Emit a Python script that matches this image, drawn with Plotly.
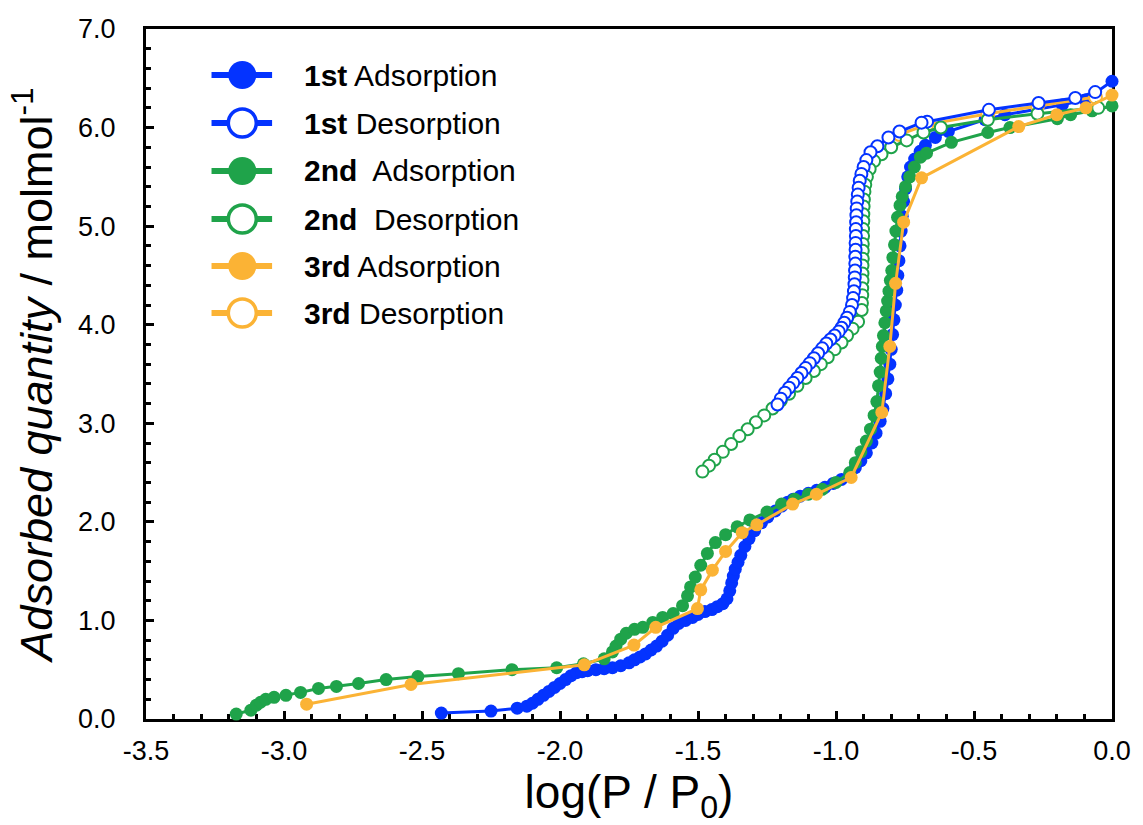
import plotly.graph_objects as go

# ---------------------------------------------------------------------------
# Isotherm data: x = log(P / P0), y = adsorbed quantity / mol mol^-1
# ---------------------------------------------------------------------------
ads1_x = [-2.43, -2.25, -2.155, -2.12, -2.10, -2.08, -2.06, -2.04, -2.02, -2.00,
          -1.98, -1.96, -1.94, -1.92, -1.90, -1.87, -1.84, -1.81, -1.78, -1.75,
          -1.73, -1.71, -1.69, -1.67, -1.65, -1.63, -1.61, -1.59, -1.57, -1.545,
          -1.52, -1.50, -1.475, -1.45, -1.43, -1.41, -1.395, -1.385, -1.378, -1.372,
          -1.365, -1.355, -1.345, -1.33, -1.315, -1.295, -1.27, -1.247, -1.22, -1.197,
          -1.175, -1.155, -1.13, -1.10, -1.07, -1.04, -1.01, -0.98, -0.95, -0.93,
          -0.91, -0.89, -0.87, -0.855, -0.84, -0.83, -0.82, -0.812, -0.805, -0.80,
          -0.795, -0.79, -0.785, -0.78, -0.776, -0.772, -0.768, -0.764, -0.76, -0.755,
          -0.748, -0.74, -0.73, -0.715, -0.695, -0.676, -0.64, -0.593, -0.46, -0.388,
          -0.18, -0.097, 0.0]
ads1_y = [0.06, 0.08, 0.11, 0.13, 0.16, 0.20, 0.24, 0.28, 0.32, 0.36,
          0.40, 0.44, 0.47, 0.48, 0.49, 0.50, 0.51, 0.52, 0.54, 0.57,
          0.60, 0.63, 0.66, 0.70, 0.74, 0.79, 0.85, 0.92, 0.97, 1.00,
          1.03, 1.06, 1.09, 1.11, 1.14, 1.17, 1.22, 1.30, 1.38, 1.45,
          1.52, 1.59, 1.66, 1.75, 1.83, 1.91, 1.99, 2.05, 2.11, 2.16,
          2.20, 2.23, 2.26, 2.29, 2.32, 2.35, 2.39, 2.43, 2.48, 2.55,
          2.62, 2.70, 2.80, 2.90, 3.02, 3.15, 3.30, 3.45, 3.60, 3.75,
          3.90, 4.05, 4.20, 4.35, 4.50, 4.65, 4.80, 4.95, 5.10, 5.25,
          5.38, 5.50, 5.60, 5.68, 5.76, 5.82, 5.90, 5.96, 6.08, 6.13,
          6.23, 6.28, 6.47]

des1_x = [-0.061, -0.133, -0.266, -0.446, -0.67, -0.69, -0.77, -0.81, -0.85, -0.875,
          -0.89, -0.90, -0.908, -0.914, -0.918, -0.921, -0.923, -0.925, -0.926, -0.927,
          -0.928, -0.928, -0.929, -0.929, -0.930, -0.930, -0.931, -0.932, -0.933, -0.935,
          -0.938, -0.942, -0.95, -0.96, -0.97, -0.98, -0.99, -1.005, -1.02, -1.035,
          -1.05, -1.065, -1.08, -1.095, -1.11, -1.125, -1.14, -1.155, -1.17, -1.185,
          -1.20, -1.212]
des1_y = [6.36, 6.30, 6.25, 6.18, 6.06, 6.05, 5.96, 5.90, 5.81, 5.75,
          5.67, 5.60, 5.53, 5.46, 5.39, 5.32, 5.25, 5.18, 5.11, 5.04,
          4.97, 4.90, 4.83, 4.76, 4.69, 4.62, 4.55, 4.48, 4.41, 4.34,
          4.27, 4.20, 4.13, 4.07, 4.02, 3.97, 3.93, 3.89, 3.85, 3.81,
          3.76, 3.71, 3.66, 3.61, 3.56, 3.51, 3.46, 3.41, 3.36, 3.31,
          3.25, 3.19]

ads2_x = [-3.173, -3.12, -3.10, -3.085, -3.066, -3.036, -2.993, -2.94, -2.875, -2.81,
          -2.73, -2.63, -2.515, -2.368, -2.174, -2.012, -1.915, -1.84, -1.81, -1.797,
          -1.78, -1.76, -1.73, -1.70, -1.664, -1.628, -1.59, -1.556, -1.538, -1.527,
          -1.51, -1.49, -1.466, -1.437, -1.40, -1.358, -1.312, -1.25, -1.197, -1.15,
          -1.10, -1.05, -1.00, -0.95, -0.93, -0.91, -0.89, -0.875, -0.862, -0.852,
          -0.846, -0.84, -0.836, -0.832, -0.828, -0.823, -0.818, -0.813, -0.808, -0.803,
          -0.798, -0.794, -0.788, -0.783, -0.777, -0.768, -0.76, -0.748, -0.733, -0.716,
          -0.694, -0.672, -0.582, -0.45, -0.37, -0.198, -0.15, -0.072, 0.0]
ads2_y = [0.05, 0.09, 0.14, 0.17, 0.20, 0.22, 0.24, 0.27, 0.31, 0.33,
          0.36, 0.40, 0.43, 0.46, 0.50, 0.52, 0.56, 0.61, 0.68, 0.74,
          0.81, 0.87, 0.91, 0.93, 0.98, 1.03, 1.07, 1.15, 1.25, 1.34,
          1.44, 1.56, 1.68, 1.79, 1.87, 1.95, 2.02, 2.10, 2.18, 2.23,
          2.28, 2.33, 2.40, 2.50, 2.60, 2.71, 2.82, 2.94, 3.08, 3.22,
          3.38, 3.52, 3.66, 3.78, 3.89, 4.02, 4.14, 4.24, 4.34, 4.45,
          4.55, 4.68, 4.81, 4.95, 5.09, 5.21, 5.30, 5.40, 5.50, 5.60,
          5.70, 5.74, 5.85, 5.95, 6.00, 6.09, 6.13, 6.17, 6.22]

des2_x = [-0.05, -0.27, -0.45, -0.62, -0.683, -0.744, -0.80, -0.835, -0.862, -0.878,
          -0.888, -0.894, -0.897, -0.899, -0.900, -0.901, -0.901, -0.902, -0.902, -0.903,
          -0.903, -0.903, -0.904, -0.904, -0.904, -0.905, -0.905, -0.906, -0.907, -0.92,
          -0.94, -0.96, -0.98, -1.005, -1.03, -1.055, -1.08, -1.11, -1.14, -1.17,
          -1.20, -1.23, -1.26, -1.29, -1.32, -1.35, -1.38, -1.41, -1.44, -1.46,
          -1.484]
des2_y = [6.20, 6.14, 6.08, 6.00, 5.95, 5.87, 5.80, 5.73, 5.66, 5.58,
          5.50, 5.42, 5.35, 5.27, 5.20, 5.12, 5.05, 4.97, 4.90, 4.82,
          4.75, 4.67, 4.60, 4.52, 4.45, 4.37, 4.30, 4.22, 4.15, 4.03,
          3.96, 3.89, 3.82, 3.75, 3.67, 3.60, 3.53, 3.46, 3.38, 3.30,
          3.23, 3.15, 3.08, 3.01, 2.94, 2.87, 2.79, 2.71, 2.63, 2.57,
          2.51]

ads3_x = [-2.918, -2.54, -1.912, -1.732, -1.653, -1.502, -1.49, -1.448, -1.40, -1.34,
          -1.287, -1.157, -1.071, -0.945, -0.834, -0.805, -0.784, -0.755, -0.69, -0.338,
          -0.20, -0.094, 0.0]
ads3_y = [0.15, 0.35, 0.55, 0.75, 0.93, 1.12, 1.31, 1.51, 1.70, 1.89,
          1.97, 2.18, 2.28, 2.45, 3.11, 3.78, 4.42, 5.04, 5.49, 6.01,
          6.13, 6.20, 6.33]

des3_x = [-0.06, -0.27, -0.45, -0.67, -0.77]
des3_y = [6.31, 6.22, 6.14, 6.03, 5.93]

x_tick_vals = [-3.5, -3.0, -2.5, -2.0, -1.5, -1.0, -0.5, 0.0]
x_tick_labels = ["-3.5", "-3.0", "-2.5", "-2.0", "-1.5", "-1.0", "-0.5", "0.0"]
y_tick_vals = [0, 1, 2, 3, 4, 5, 6, 7]
y_tick_labels = ["0.0", "1.0", "2.0", "3.0", "4.0", "5.0", "6.0", "7.0"]

BLUE = "#0433FF"
GREEN = "#1FA34A"
ORANGE = "#FBB335"

legend_labels = ["<b>1st</b> Adsorption", "<b>1st</b> Desorption",
                 "<b>2nd</b>&nbsp; Adsorption", "<b>2nd</b>&nbsp; Desorption",
                 "<b>3rd</b> Adsorption", "<b>3rd</b> Desorption"]
legend_colors = [BLUE, BLUE, GREEN, GREEN, ORANGE, ORANGE]
legend_filled = [True, False, True, False, True, False]

FONT = "Liberation Sans, Arial, sans-serif"
X_RANGE = [-3.5, 0.0]
Y_RANGE = [0.0, 7.0]

# Plot-area geometry in pixels (figure is 1143 x 825)
W, H = 1143, 825
M_L, M_R, M_T, M_B = 146, 24, 29, 106
PW, PH = W - M_L - M_R, H - M_T - M_B


def paper_x(px):
    return (px - M_L) / PW


def paper_y(py):
    return (H - M_B - py) / PH


def series(x, y, color, filled, size=13):
    return go.Scatter(
        x=x, y=y, mode="lines+markers", showlegend=False, cliponaxis=False,
        line=dict(color=color, width=3),
        marker=dict(size=size, symbol="circle",
                    color=color if filled else "white",
                    line=dict(color=color, width=0 if filled else 2)),
    )


fig = go.Figure()
# placeholder on the secondary (top/right) axes so their frame lines are drawn
fig.add_trace(go.Scatter(x=[None], y=[None], xaxis="x2", yaxis="y2",
                         showlegend=False, hoverinfo="skip"))
# drawing order sets which curve sits on top where they overlap
fig.add_trace(series(ads1_x, ads1_y, BLUE, True))
fig.add_trace(series(ads2_x, ads2_y, GREEN, True))
fig.add_trace(series(des3_x, des3_y, ORANGE, False))
fig.add_trace(series(des2_x, des2_y, GREEN, False, size=12))
fig.add_trace(series(des1_x, des1_y, BLUE, False, size=12))
fig.add_trace(series(ads3_x, ads3_y, ORANGE, True))

shapes = []
annotations = []

# Legend block drawn with shapes + annotations (large symbols)
row_y = [75, 123, 171, 219, 266, 313]
for py, label, col, filled in zip(row_y, legend_labels, legend_colors, legend_filled):
    shapes.append(dict(type="line", xref="paper", yref="paper",
                       x0=paper_x(212), x1=paper_x(273), y0=paper_y(py), y1=paper_y(py),
                       line=dict(color=col, width=6)))
    shapes.append(dict(type="circle", xref="paper", yref="paper",
                       xsizemode="pixel", ysizemode="pixel",
                       xanchor=paper_x(243), yanchor=paper_y(py),
                       x0=-14, x1=14, y0=-14, y1=14,
                       fillcolor=col if filled else "white",
                       line=dict(color=col, width=0 if filled else 3.5)))
    annotations.append(dict(xref="paper", yref="paper", x=paper_x(303), y=paper_y(py),
                            xanchor="left", yanchor="middle", showarrow=False,
                            text=label, font=dict(family=FONT, size=30, color="black")))

frame_axis = dict(showline=True, linecolor="black", linewidth=3, ticks="",
                  showticklabels=False, showgrid=False, zeroline=False,
                  layer="below traces")

fig.update_layout(
    width=W, height=H,
    margin=dict(l=M_L, r=M_R, t=M_T, b=M_B),
    paper_bgcolor="white", plot_bgcolor="white",
    shapes=shapes, annotations=annotations,
    xaxis=dict(
        range=X_RANGE, showgrid=False, zeroline=False,
        showline=True, linecolor="black", linewidth=3,
        ticks="inside", ticklen=8, tickwidth=2.5, tickcolor="black",
        tickvals=x_tick_vals, ticktext=x_tick_labels,
        tickfont=dict(family=FONT, size=27, color="black"),
        ticklabelstandoff=6,
        minor=dict(dtick=0.1, ticks="inside", ticklen=5, tickwidth=2.5, tickcolor="black"),
        layer="below traces",
        title=dict(text="log(P / P<sub>0</sub>)", standoff=4,
                   font=dict(family=FONT, size=46, color="black")),
    ),
    yaxis=dict(
        range=Y_RANGE, showgrid=False, zeroline=False,
        showline=True, linecolor="black", linewidth=3,
        ticks="inside", ticklen=8, tickwidth=2.5, tickcolor="black",
        tickvals=y_tick_vals, ticktext=y_tick_labels,
        tickfont=dict(family=FONT, size=27, color="black"),
        ticklabelstandoff=22,
        minor=dict(dtick=0.2, ticks="inside", ticklen=5, tickwidth=2.5, tickcolor="black"),
        layer="below traces",
        title=dict(text="<i>Adsorbed quantity</i> / molmol<sup>-1</sup>", standoff=12,
                   font=dict(family=FONT, size=45, color="black")),
    ),
    xaxis2=dict(range=X_RANGE, overlaying="x", side="top", **frame_axis),
    yaxis2=dict(range=Y_RANGE, overlaying="y", side="right", **frame_axis),
)

fig.write_html("out.html")
